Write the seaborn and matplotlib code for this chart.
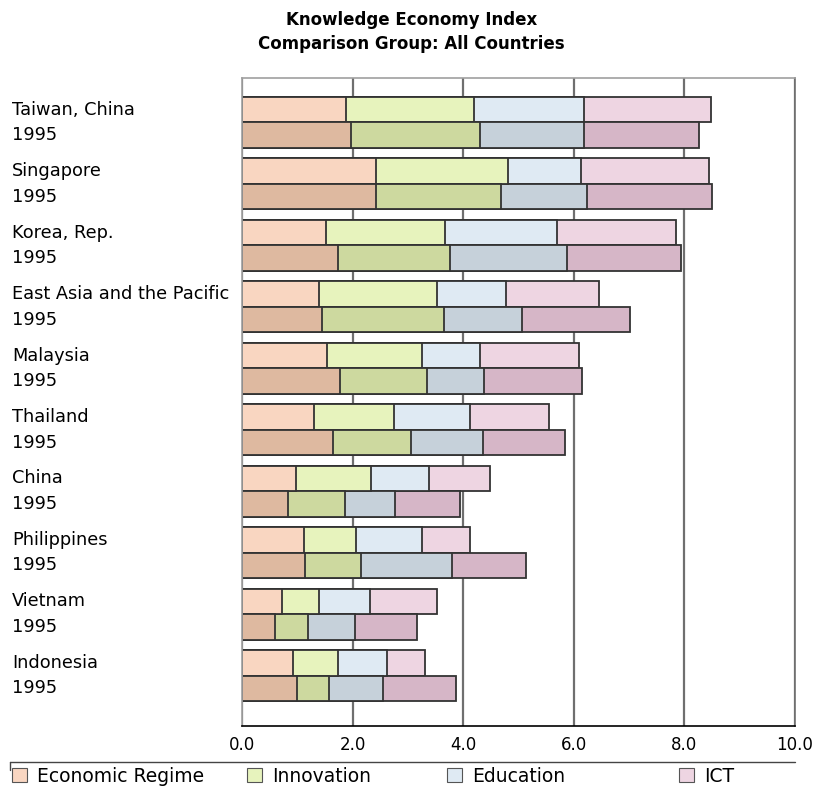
import matplotlib
matplotlib.use("Agg")
import matplotlib.pyplot as plt
from matplotlib.lines import Line2D
from matplotlib.patches import Patch
from matplotlib.transforms import blended_transform_factory
import pandas as pd
import seaborn as sns

# valeurs
countries = ["Taiwan, China", "Singapore", "Korea, Rep.", "East Asia and the Pacific",
             "Malaysia", "Thailand", "China", "Philippines", "Vietnam", "Indonesia"]
components = ["Economic Regime", "Innovation", "Education", "ICT"]
periods = ["Recent", "1995"]

econ_recent = [1.88, 2.43, 1.51, 1.40, 1.54, 1.30, 0.98, 1.12, 0.72, 0.93]
innov_recent = [2.31, 2.38, 2.16, 2.13, 1.71, 1.44, 1.36, 0.95, 0.68, 0.80]
educ_recent = [1.99, 1.32, 2.02, 1.25, 1.05, 1.39, 1.05, 1.18, 0.92, 0.89]
ict_recent = [2.30, 2.32, 2.15, 1.68, 1.79, 1.42, 1.09, 0.88, 1.21, 0.69]

econ_1995 = [1.98, 2.43, 1.73, 1.44, 1.77, 1.64, 0.83, 1.14, 0.60, 1.00]
innov_1995 = [2.32, 2.26, 2.04, 2.22, 1.58, 1.42, 1.03, 1.02, 0.59, 0.58]
educ_1995 = [1.88, 1.55, 2.10, 1.40, 1.02, 1.30, 0.90, 1.64, 0.85, 0.97]
ict_1995 = [2.08, 2.26, 2.07, 1.95, 1.77, 1.48, 1.19, 1.34, 1.12, 1.32]

light_colors = ["#f9d6c1", "#e7f3bd", "#dfeaf3", "#eed5e2"]
dark_colors = ["#deb9a0", "#cdd99f", "#c6d1da", "#d6b6c7"]

values = {
    ("Recent", "Economic Regime"): econ_recent,
    ("Recent", "Innovation"): innov_recent,
    ("Recent", "Education"): educ_recent,
    ("Recent", "ICT"): ict_recent,
    ("1995", "Economic Regime"): econ_1995,
    ("1995", "Innovation"): innov_1995,
    ("1995", "Education"): educ_1995,
    ("1995", "ICT"): ict_1995,
}

rows = []
for (period, comp), vals in values.items():
    for c, v in zip(countries, vals):
        rows.append({"country": c, "period": period, "component": comp, "value": v})
df = pd.DataFrame(rows)
df["component"] = pd.Categorical(df["component"], components, ordered=True)
df = df.sort_values(["country", "period", "component"])
df["cum"] = df.groupby(["country", "period"])["value"].cumsum()

sns.set_style("white")
plt.rcParams["font.family"] = ["DejaVu Sans"]
plt.rcParams["text.color"] = "black"
plt.rcParams["xtick.color"] = "black"

fig = plt.figure(figsize=(8.23, 7.87), dpi=100)
ax = fig.add_axes([242 / 823, 1 - 726 / 787, (795 - 242) / 823, (726 - 78) / 787])

bar_w = 0.83
# stacked: on dessine les cumuls du plus grand au plus petit
for k in reversed(range(len(components))):
    sub = df[df["component"] == components[k]]
    sns.barplot(data=sub, y="country", x="cum", hue="period", order=countries,
                hue_order=periods, palette=[light_colors[k], dark_colors[k]],
                orient="h", width=bar_w, errorbar=None, edgecolor="#333333",
                linewidth=1.3, saturation=1, legend=False, ax=ax)

ax.set_xlim(0, 10)
ax.set_ylim(len(countries) - 1 + 0.82, -0.724)
ax.set_xticks([0, 2, 4, 6, 8, 10])
ax.set_xticklabels(["0.0", "2.0", "4.0", "6.0", "8.0", "10.0"], fontsize=12)
ax.set_yticks([])
ax.set_xlabel("")
ax.set_ylabel("")
ax.xaxis.grid(True, color="#6f6f6f", lw=1.6)
ax.set_axisbelow(True)
ax.tick_params(axis="x", direction="in", length=5, width=1, color="black", pad=7)
for s in ["top", "left", "right"]:
    ax.spines[s].set_color("#a0a0a0")
    ax.spines[s].set_linewidth(1.2)
ax.spines["right"].set_color("#6f6f6f")
ax.spines["bottom"].set_color("black")
ax.spines["bottom"].set_linewidth(1.2)

trans = blended_transform_factory(fig.transFigure, ax.transData)
for i, c in enumerate(countries):
    ax.text(12 / 823, i - bar_w / 4, c, transform=trans, fontsize=12.8, va="center", ha="left")
    ax.text(12 / 823, i + bar_w / 4, "1995", transform=trans, fontsize=12.8, va="center", ha="left")

fig.suptitle("Knowledge Economy Index\nComparison Group: All Countries",
             x=0.5, y=1 - 11 / 787, fontsize=12, fontweight="bold", va="top", linespacing=1.45)

# legende
fig.add_artist(Line2D([10 / 823, 795 / 823], [1 - 762 / 787, 1 - 762 / 787],
                      transform=fig.transFigure, color="#444444", lw=1))
fig.add_artist(Line2D([10 / 823, 10 / 823], [1 - 762 / 787, 1 - 770 / 787],
                      transform=fig.transFigure, color="#444444", lw=1))
leg_x = [4, 239, 439, 671]
for k, comp in enumerate(components):
    h = Patch(facecolor=light_colors[k], edgecolor="#555555", lw=0.8)
    lg = fig.legend(handles=[h], labels=[comp], loc="center left",
                    bbox_to_anchor=(leg_x[k] / 823, 1 - 776 / 787), frameon=False,
                    fontsize=13.5, handlelength=0.85, handleheight=0.85, handletextpad=0.5,
                    borderaxespad=0)

fig.savefig("out.png", dpi=100)
